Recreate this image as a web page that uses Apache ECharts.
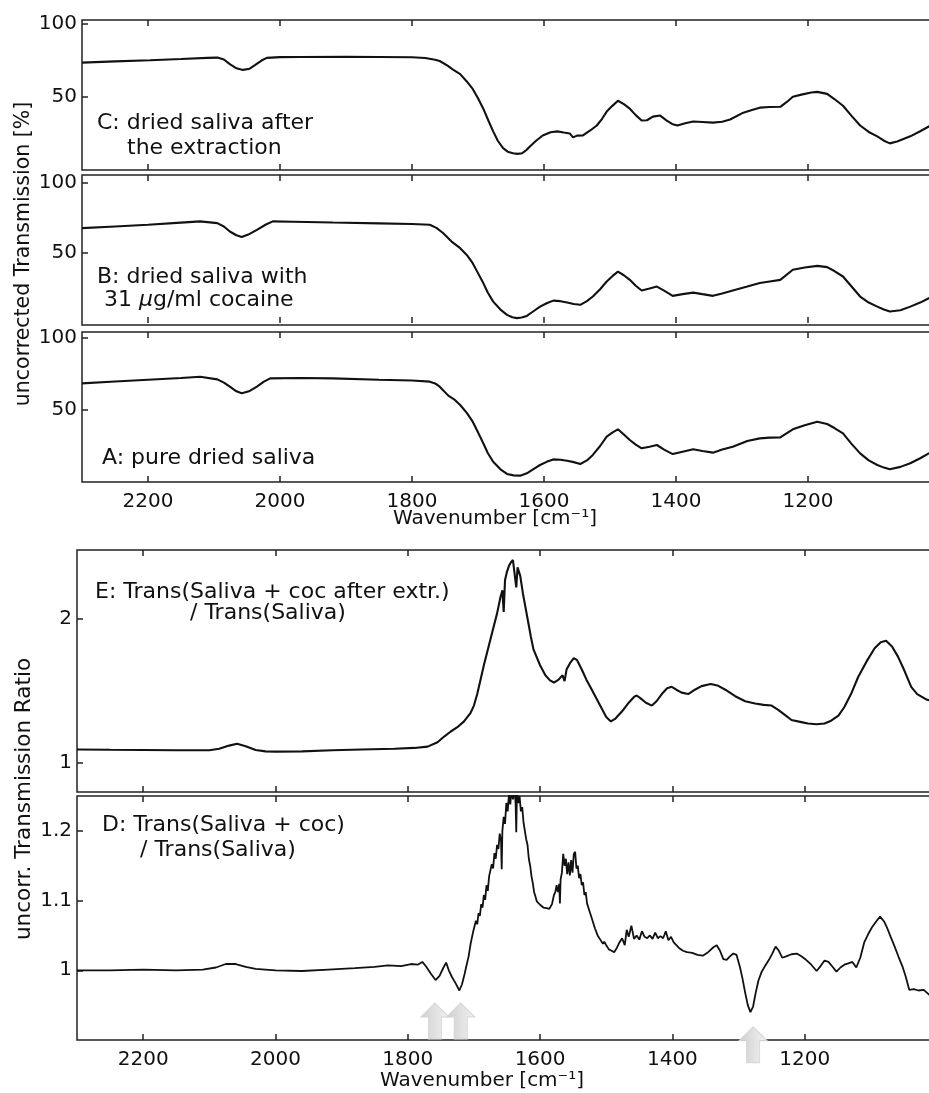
<!DOCTYPE html>
<html>
<head>
<meta charset="utf-8">
<script src="https://cdn.jsdelivr.net/npm/echarts@6.0.0/dist/echarts.min.js"></script>
<style>
  html, body { margin: 0; padding: 0; background: #fff; overflow: hidden; }
  #chart { width: 941px; height: 1093px; }
</style>
</head>
<body>
<div id="chart"></div>
<script>
// wavenumber ticks shared by all panels
const xTicks = [2200, 2000, 1800, 1600, 1400, 1200];
const transTicks = [50, 100];
const eTicks = [1, 2];
const dTicks = [1, 1.1, 1.2];

// C: dried saliva after the extraction
const cWave = [2300, 2250, 2197, 2150, 2110, 2095, 2085, 2076, 2066, 2056, 2046, 2038, 2028, 2020, 2000, 1970, 1900, 1850, 1800, 1780, 1765, 1758, 1745, 1739, 1727, 1717, 1708, 1700, 1692, 1684, 1677, 1670, 1662, 1655, 1647, 1640, 1633, 1627, 1621, 1612, 1602, 1590, 1580, 1570, 1561, 1556, 1550, 1541, 1530, 1520, 1512, 1505, 1496, 1488, 1479, 1470, 1461, 1452, 1444, 1435, 1424, 1414, 1406, 1398, 1386, 1374, 1360, 1344, 1330, 1318, 1298, 1285, 1273, 1258, 1242, 1232, 1223, 1210, 1195, 1186, 1171, 1160, 1147, 1134, 1121, 1108, 1095, 1085, 1076, 1065, 1045, 1030, 1017, 1000];
const cTrans = [73.4, 74.2, 75.0, 75.8, 76.6, 76.8, 75.5, 72.3, 69.5, 68.4, 69.2, 71.6, 74.8, 76.6, 77.1, 77.2, 77.3, 77.2, 77.0, 76.5, 75.3, 74.5, 71.0, 68.9, 65.5, 60.5, 55.4, 49.0, 41.9, 33.5, 26.4, 20.0, 14.9, 12.5, 11.5, 11.0, 11.5, 13.5, 16.2, 20.0, 23.6, 25.8, 26.4, 25.6, 25.0, 22.3, 23.5, 23.6, 27.0, 30.4, 35.0, 39.9, 44.0, 47.3, 45.0, 41.9, 37.5, 33.8, 34.0, 36.5, 37.2, 33.8, 31.5, 30.4, 32.0, 33.1, 32.8, 32.4, 33.0, 34.5, 39.2, 41.0, 42.6, 43.0, 43.2, 46.5, 50.0, 51.5, 53.0, 53.4, 52.0, 48.5, 43.9, 37.0, 30.4, 26.0, 23.0, 20.0, 18.2, 19.5, 23.0, 26.5, 29.7, 33.8];

// B: dried saliva with cocaine
const bWave = [2300, 2250, 2200, 2150, 2121, 2095, 2085, 2076, 2066, 2058, 2048, 2035, 2022, 2011, 1980, 1920, 1850, 1800, 1773, 1763, 1753, 1740, 1727, 1717, 1708, 1700, 1692, 1685, 1677, 1666, 1656, 1648, 1641, 1634, 1626, 1616, 1606, 1596, 1586, 1575, 1565, 1555, 1545, 1535, 1526, 1515, 1505, 1496, 1488, 1479, 1470, 1461, 1452, 1440, 1429, 1418, 1405, 1390, 1374, 1360, 1344, 1330, 1314, 1292, 1273, 1258, 1242, 1223, 1205, 1186, 1171, 1160, 1147, 1134, 1121, 1108, 1095, 1085, 1076, 1060, 1045, 1030, 1017, 1000];
const bTrans = [67.6, 68.8, 70.0, 71.5, 72.4, 71.2, 68.8, 65.2, 62.5, 61.2, 63.0, 66.4, 70.0, 72.4, 72.2, 71.6, 71.0, 70.5, 70.0, 67.8, 64.1, 58.0, 53.3, 48.5, 42.6, 35.5, 28.4, 21.5, 15.2, 9.5, 5.7, 4.0, 3.4, 3.8, 5.0, 8.3, 11.6, 14.0, 15.9, 15.5, 14.5, 13.5, 12.9, 15.5, 18.8, 24.0, 29.5, 33.5, 36.6, 34.0, 30.7, 26.5, 23.1, 24.5, 25.9, 23.0, 19.3, 20.5, 21.6, 20.5, 19.3, 21.0, 23.1, 25.9, 28.4, 29.5, 30.7, 37.9, 39.5, 40.7, 39.8, 37.0, 33.1, 26.0, 18.8, 14.5, 11.6, 9.5, 8.1, 9.0, 11.6, 14.5, 17.6, 21.0];

// A: pure dried saliva
const aWave = [2300, 2250, 2200, 2150, 2121, 2095, 2085, 2076, 2066, 2058, 2047, 2035, 2025, 2015, 1970, 1920, 1850, 1800, 1773, 1765, 1758, 1745, 1735, 1727, 1717, 1708, 1700, 1692, 1685, 1677, 1666, 1656, 1646, 1636, 1626, 1616, 1606, 1596, 1586, 1575, 1565, 1555, 1545, 1535, 1526, 1515, 1505, 1496, 1488, 1479, 1470, 1461, 1452, 1440, 1429, 1418, 1405, 1390, 1374, 1360, 1344, 1330, 1314, 1292, 1273, 1258, 1242, 1223, 1205, 1186, 1171, 1160, 1147, 1134, 1121, 1108, 1095, 1085, 1076, 1060, 1045, 1030, 1017, 1000];
const aTrans = [68.5, 69.8, 71.0, 72.2, 73.1, 71.3, 69.0, 66.2, 63.0, 61.6, 63.0, 66.2, 69.5, 72.0, 72.2, 72.0, 71.0, 70.5, 69.7, 68.5, 66.2, 60.0, 57.0, 53.5, 48.0, 41.9, 34.5, 26.9, 20.0, 14.1, 8.8, 5.6, 4.6, 4.4, 6.0, 9.0, 11.8, 14.0, 15.7, 15.5, 14.8, 13.8, 12.5, 15.0, 18.8, 25.0, 31.5, 34.5, 36.6, 33.0, 29.2, 26.0, 23.4, 24.5, 25.7, 22.5, 19.4, 21.0, 22.7, 21.5, 20.4, 22.5, 24.5, 28.5, 30.3, 30.8, 31.0, 36.6, 39.5, 41.9, 40.3, 37.5, 33.8, 26.5, 19.9, 15.0, 11.8, 10.0, 8.8, 10.5, 13.0, 16.5, 19.9, 23.5];

// E: ratio after extraction
const eWave = [2300, 2250, 2200, 2150, 2100, 2085, 2070, 2058, 2045, 2030, 2015, 2000, 1960, 1914, 1870, 1820, 1790, 1770, 1755, 1745, 1735, 1725, 1715, 1705, 1700, 1695, 1690, 1685, 1680, 1675, 1670, 1665, 1660, 1657, 1655, 1653, 1650, 1647, 1644, 1641, 1638, 1636, 1634, 1630, 1626, 1622, 1618, 1614, 1610, 1600, 1592, 1585, 1579, 1572, 1566, 1563, 1560, 1554, 1549, 1544, 1537, 1530, 1523, 1516, 1508, 1500, 1493, 1486, 1476, 1466, 1458, 1454, 1448, 1440, 1431, 1424, 1416, 1408, 1401, 1394, 1386, 1376, 1366, 1356, 1342, 1332, 1320, 1305, 1290, 1275, 1262, 1250, 1240, 1230, 1220, 1205, 1195, 1182, 1170, 1160, 1149, 1140, 1130, 1119, 1106, 1094, 1085, 1077, 1068, 1059, 1050, 1039, 1030, 1015, 1000];
const eRatio = [1.095, 1.093, 1.092, 1.090, 1.090, 1.100, 1.122, 1.135, 1.118, 1.092, 1.082, 1.080, 1.082, 1.090, 1.095, 1.100, 1.106, 1.115, 1.145, 1.185, 1.220, 1.250, 1.290, 1.350, 1.400, 1.480, 1.580, 1.680, 1.770, 1.860, 1.950, 2.040, 2.150, 2.200, 2.050, 2.270, 2.330, 2.370, 2.395, 2.410, 2.400, 2.220, 2.360, 2.300, 2.180, 2.080, 1.980, 1.880, 1.790, 1.680, 1.610, 1.575, 1.560, 1.580, 1.610, 1.570, 1.650, 1.700, 1.730, 1.715, 1.650, 1.580, 1.520, 1.460, 1.390, 1.320, 1.290, 1.310, 1.360, 1.420, 1.460, 1.470, 1.450, 1.420, 1.400, 1.430, 1.480, 1.520, 1.530, 1.510, 1.490, 1.480, 1.510, 1.535, 1.550, 1.540, 1.510, 1.465, 1.430, 1.415, 1.405, 1.400, 1.370, 1.335, 1.300, 1.285, 1.275, 1.270, 1.275, 1.295, 1.330, 1.390, 1.480, 1.600, 1.710, 1.800, 1.840, 1.850, 1.810, 1.740, 1.650, 1.530, 1.480, 1.440, 1.425];

// D: ratio with cocaine (noisy bands kept as read)
const dWave = [2300, 2250, 2200, 2150, 2110, 2090, 2075, 2060, 2045, 2030, 2000, 1960, 1920, 1880, 1850, 1830, 1810, 1795, 1785, 1778, 1772, 1765, 1758, 1752, 1746, 1742, 1738, 1733, 1728, 1722, 1718, 1714, 1711, 1708,
  1705, 1703, 1701, 1699, 1697, 1695, 1693, 1691, 1689, 1687, 1685, 1683, 1681, 1679, 1677, 1675, 1673, 1671, 1669, 1667, 1665, 1663, 1661, 1659, 1658, 1657, 1655, 1653, 1651, 1649, 1647, 1645, 1643, 1641, 1639, 1637, 1636, 1635, 1633, 1631, 1629, 1627, 1625, 1623, 1621, 1619, 1617, 1615, 1613, 1611, 1609, 1607, 1605, 1603, 1600,
  1595, 1590, 1586,
  1582, 1579, 1577, 1575, 1573, 1571, 1570, 1569, 1567, 1565, 1563, 1561, 1559, 1557, 1555, 1553, 1551, 1549, 1547, 1545, 1543, 1541, 1539, 1537, 1535, 1533, 1531, 1529, 1527, 1525, 1523, 1521, 1519, 1517, 1515, 1513, 1511, 1509, 1507, 1505, 1503, 1500,
  1496, 1492, 1488, 1484, 1480, 1476, 1472, 1469, 1466, 1462, 1458, 1454, 1450, 1446, 1442, 1438, 1434, 1430, 1426, 1422, 1418, 1414, 1410, 1406, 1402, 1398, 1394, 1390, 1384, 1378, 1370, 1362, 1354, 1346, 1338, 1333, 1328, 1323, 1318, 1313, 1308, 1303, 1298, 1294, 1290, 1286, 1282, 1278, 1274, 1270, 1265, 1260, 1254, 1249, 1244, 1239, 1234, 1228, 1220, 1212, 1205, 1198, 1190, 1182, 1176, 1170, 1164, 1157, 1152, 1146, 1140, 1134, 1128, 1122, 1116, 1110, 1104, 1098, 1092, 1086, 1080, 1075, 1070, 1064, 1058, 1052, 1047, 1042, 1035, 1028, 1020, 1012, 1005, 1000];
const dRatio = [1.000, 1.000, 1.001, 1.000, 1.001, 1.004, 1.009, 1.009, 1.005, 1.002, 1.000, 0.999, 1.001, 1.003, 1.005, 1.007, 1.006, 1.009, 1.008, 1.012, 1.005, 0.995, 0.986, 0.992, 1.004, 1.011, 1.000, 0.990, 0.982, 0.971, 0.980, 0.995, 1.008, 1.020,
  1.038, 1.036, 1.056, 1.054, 1.071, 1.066, 1.082, 1.078, 1.095, 1.090, 1.108, 1.101, 1.122, 1.114, 1.135, 1.134, 1.152, 1.146, 1.168, 1.160, 1.180, 1.174, 1.196, 1.186, 1.145, 1.200, 1.220, 1.210, 1.240, 1.228, 1.252, 1.238, 1.262, 1.245, 1.262, 1.240, 1.198, 1.258, 1.240, 1.250, 1.228, 1.234, 1.212, 1.210, 1.188, 1.180, 1.160, 1.150, 1.135, 1.125, 1.112, 1.106, 1.099, 1.098, 1.094,
  1.090, 1.089, 1.088,
  1.095, 1.108, 1.112, 1.122, 1.112, 1.124, 1.096, 1.130, 1.140, 1.167, 1.150, 1.160, 1.138, 1.155, 1.136, 1.158, 1.140, 1.167, 1.170, 1.146, 1.150, 1.132, 1.138, 1.122, 1.126, 1.108, 1.112, 1.096, 1.098, 1.084, 1.086, 1.072, 1.072, 1.060, 1.062, 1.050, 1.052, 1.044, 1.046, 1.038, 1.041, 1.036,
  1.030, 1.028, 1.026, 1.032, 1.040, 1.046, 1.036, 1.058, 1.048, 1.064, 1.045, 1.050, 1.044, 1.056, 1.048, 1.046, 1.050, 1.045, 1.054, 1.046, 1.049, 1.046, 1.056, 1.043, 1.048, 1.040, 1.036, 1.032, 1.028, 1.026, 1.025, 1.022, 1.021, 1.026, 1.033, 1.036, 1.028, 1.016, 1.015, 1.020, 1.024, 1.022, 1.005, 0.988, 0.968, 0.950, 0.940, 0.948, 0.968, 0.985, 0.998, 1.006, 1.015, 1.024, 1.034, 1.028, 1.018, 1.020, 1.023, 1.024, 1.020, 1.015, 1.008, 0.999, 1.006, 1.014, 1.012, 1.004, 0.998, 1.004, 1.008, 1.010, 1.012, 1.004, 1.018, 1.040, 1.052, 1.062, 1.070, 1.077, 1.070, 1.060, 1.048, 1.034, 1.019, 1.005, 0.990, 0.972, 0.973, 0.971, 0.972, 0.965, 0.962, 0.962];

// arrows under the cocaine bands (tip position)
const arrowWave = [1759, 1720, 1278];
const arrowTip = [0.953, 0.953, 0.919];

const FONT = 'DejaVu Sans';
const INK = '#111';

const chart = echarts.init(document.getElementById('chart'));

function pairs(w, v) {
  return w.map((x, i) => [x, v[i]]);
}

const panels = [
  { left: 82, top: 20, height: 150, min: 0, max: 102.5, ticks: transTicks, labels: false },
  { left: 82, top: 175, height: 150, min: -1.5, max: 105.5, ticks: transTicks, labels: false },
  { left: 82, top: 332, height: 150, min: 0, max: 104.2, ticks: transTicks, labels: true },
  { left: 77, top: 550, height: 242, min: 0.8, max: 2.48, ticks: eTicks, labels: false },
  { left: 77, top: 796, height: 244, min: 0.9, max: 1.25, ticks: dTicks, labels: true }
];
const seriesData = [pairs(cWave, cTrans), pairs(bWave, bTrans), pairs(aWave, aTrans), pairs(eWave, eRatio), pairs(dWave, dRatio)];

const grid = [], xAxis = [], yAxis = [], series = [];
panels.forEach((p, i) => {
  grid.push({
    left: p.left, top: p.top, height: p.height, width: 940 - p.left - (i > 2 ? 3 : 0),
    show: true, borderColor: '#222', borderWidth: 1.5
  });
  ['bottom', 'top'].forEach(pos => {
    xAxis.push({
      type: 'value', gridIndex: i, position: pos, min: 1000, max: 2300, inverse: true,
      axisLine: { show: false }, splitLine: { show: false },
      axisTick: { inside: true, length: 6, customValues: xTicks, lineStyle: { color: '#222', width: 1.5 } },
      axisLabel: {
        show: pos === 'bottom' && p.labels, customValues: xTicks, formatter: v => String(v),
        color: INK, fontFamily: FONT, fontSize: 20, margin: 10
      }
    });
  });
  yAxis.push({
    type: 'value', gridIndex: i, min: p.min, max: p.max,
    axisLine: { show: false }, splitLine: { show: false },
    axisTick: { inside: true, length: 6, customValues: p.ticks, lineStyle: { color: '#222', width: 1.5 } },
    axisLabel: { customValues: p.ticks, formatter: v => String(v), color: INK, fontFamily: FONT, fontSize: 20, margin: 5 }
  });
  series.push({
    type: 'line', xAxisIndex: i * 2, yAxisIndex: i, data: seriesData[i],
    showSymbol: false, silent: true, clip: true,
    lineStyle: { color: '#111', width: i === 4 ? 1.8 : 2.1 }
  });
});

// gray arrows in panel D
series[4].markPoint = {
  symbol: 'path://M15,0 L30,14 L22,14 L22,36 L8,36 L8,14 L0,14 Z',
  symbolSize: [28, 36], symbolOffset: [0, 18], silent: true,
  label: { show: false },
  itemStyle: {
    color: new echarts.graphic.LinearGradient(0, 0, 1, 0, [
      { offset: 0, color: '#cfcfcf' }, { offset: 1, color: '#f2f2f2' }
    ]),
    borderColor: '#d6d6d6', borderWidth: 1
  },
  data: arrowWave.map((w, i) => ({ coord: [w, arrowTip[i]] }))
};

function label(x, y, text, size, extra) {
  return Object.assign({
    type: 'text', x: x, y: y, silent: true,
    style: { text: text, fill: INK, fontFamily: FONT, fontSize: size || 22, verticalAlign: 'middle' }
  }, extra || {});
}

const graphic = [
  label(97, 123, 'C: dried saliva after'),
  label(127, 148, 'the extraction'),
  label(97, 277, 'B: dried saliva with'),
  {
    type: 'text', x: 104, y: 300, silent: true,
    style: {
      text: '{n|31 }{i|μ}{n|g/ml cocaine}', verticalAlign: 'middle',
      rich: {
        n: { fill: INK, fontFamily: FONT, fontSize: 22 },
        i: { fill: INK, fontFamily: FONT, fontSize: 22, fontStyle: 'italic' }
      }
    }
  },
  label(102, 458, 'A: pure dried saliva'),
  label(95, 592, 'E: Trans(Saliva + coc after extr.)'),
  label(190, 613, '/ Trans(Saliva)'),
  label(102, 825, 'D: Trans(Saliva + coc)'),
  label(140, 850, '/ Trans(Saliva)'),
  // axis titles
  label(495, 519, 'Wavenumber [cm⁻¹]', 20, {}),
  label(482, 1081, 'Wavenumber [cm⁻¹]', 20, {}),
  label(24, 254, 'uncorrected Transmission [%]', 20.5, { rotation: Math.PI / 2 }),
  label(24, 799, 'uncorr. Transmission Ratio', 21.5, { rotation: Math.PI / 2 })
];
graphic.slice(-4).forEach(g => { g.style.align = 'center'; });

chart.setOption({
  animation: false,
  backgroundColor: '#fff',
  grid: grid,
  xAxis: xAxis,
  yAxis: yAxis,
  series: series,
  graphic: graphic
});
</script>
</body>
</html>
